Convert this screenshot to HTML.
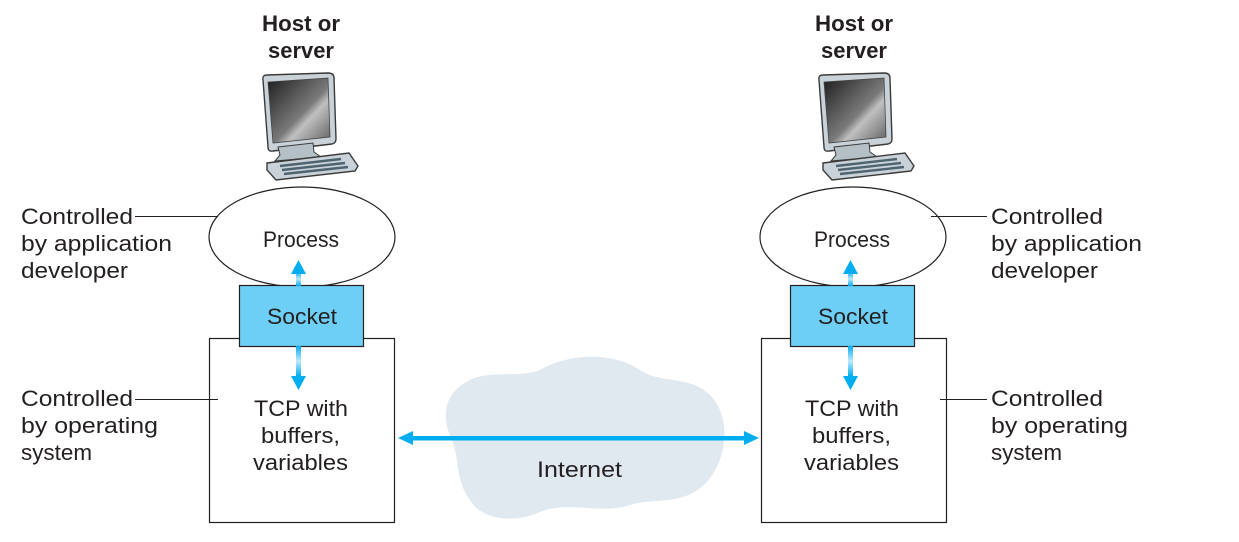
<!DOCTYPE html>
<html><head><style>
body{margin:0;background:#fff;}
svg{display:block;}
text{font-family:"Liberation Sans",sans-serif;fill:#231f20;}
</style></head><body>
<svg width="1239" height="542" viewBox="0 0 1239 542" xmlns="http://www.w3.org/2000/svg">
<defs>
<linearGradient id="scr" x1="0" y1="0" x2="1" y2="1">
<stop offset="0" stop-color="#1e1e1e"/><stop offset="0.55" stop-color="#7a7a7a"/><stop offset="0.65" stop-color="#c0c0c0"/><stop offset="1" stop-color="#606060"/>
</linearGradient>
<linearGradient id="vg" x1="0" y1="0" x2="0" y2="1">
<stop offset="0" stop-color="#00aeef"/><stop offset="0.5" stop-color="#bfe9fb"/><stop offset="1" stop-color="#00aeef"/>
</linearGradient>
<g id="pc">
<path d="M263,80 Q262,75 267,75 L328,73 Q334,73 334,78 L336,139 Q336,143 332,144 L273,151 Q268,152 268,147 Z" fill="#c9d2d8" stroke="#3a3a3a" stroke-width="1.4"/>
<path d="M268,82 L328,78 L330,137 L273,143 Z" fill="url(#scr)" stroke="#444" stroke-width="0.8"/>
<path d="M278,147 L313,143 L314,152 L321,157 L275,161 L280,155 Z" fill="#b5c0c6" stroke="#3a3a3a" stroke-width="1"/>
<path d="M267,163 L349,153 L358,166 L355,171 L276,180 L267,170 Z" fill="#c9d2d8" stroke="#3a3a3a" stroke-width="1.4"/>
<path d="M280,166 L341,159 M282,170 L345,163 M284,174 L348,167" stroke="#4f6470" stroke-width="2.4"/>
</g>
</defs>

<path d="M470,380 C490,370 520,378 540,370 C565,355 610,350 640,370 C660,384 690,375 710,395 C735,420 725,470 700,488 C680,505 650,498 630,505 C600,515 570,500 540,512 C510,525 480,518 470,500 C455,480 460,460 452,440 C440,415 445,392 470,380 Z" fill="#e0e8f0"/>

<rect x="209.5" y="338.5" width="185" height="184" fill="#fff" stroke="#231f20" stroke-width="1.2"/>
<rect x="761.5" y="338.5" width="185" height="184" fill="#fff" stroke="#231f20" stroke-width="1.2"/>

<ellipse cx="302" cy="237" rx="93" ry="50" fill="#fff" stroke="#231f20" stroke-width="1.2"/>
<ellipse cx="853" cy="237" rx="93" ry="50" fill="#fff" stroke="#231f20" stroke-width="1.2"/>

<rect x="239.5" y="285.5" width="124" height="61" fill="#6dcff6" stroke="#231f20" stroke-width="1.2"/>
<rect x="790.5" y="285.5" width="124" height="61" fill="#6dcff6" stroke="#231f20" stroke-width="1.2"/>

<g fill="#00aeef">
<rect x="296" y="272" width="5" height="14" fill="url(#vg)"/>
<polygon points="291,274 298.5,260 306,274"/>
<rect x="296" y="346" width="5" height="30" fill="url(#vg)"/>
<polygon points="291,376 298.5,390 306,376"/>
<rect x="848" y="272" width="5" height="14" fill="url(#vg)"/>
<polygon points="843,274 850.5,260 858,274"/>
<rect x="848" y="346" width="5" height="30" fill="url(#vg)"/>
<polygon points="843,376 850.5,390 858,376"/>
<rect x="410" y="436" width="336" height="4.5"/>
<polygon points="398,438 413,431 413,445"/>
<polygon points="759,438 744,431 744,445"/>
</g>

<g stroke="#231f20" stroke-width="1">
<line x1="135" y1="216.5" x2="218" y2="216.5"/>
<line x1="931" y1="216.5" x2="987" y2="216.5"/>
<line x1="135" y1="399.5" x2="218" y2="399.5"/>
<line x1="940" y1="399.5" x2="987" y2="399.5"/>
</g>

<use href="#pc"/>
<use href="#pc" transform="translate(556,0)"/>

<g font-size="22" lengthAdjust="spacingAndGlyphs">
<text x="262" y="31" font-weight="bold" textLength="78" lengthAdjust="spacingAndGlyphs">Host or</text>
<text x="268" y="58" font-weight="bold" textLength="66" lengthAdjust="spacingAndGlyphs">server</text>
<text x="815" y="31" font-weight="bold" textLength="78" lengthAdjust="spacingAndGlyphs">Host or</text>
<text x="821" y="58" font-weight="bold" textLength="66" lengthAdjust="spacingAndGlyphs">server</text>
<text x="263" y="247" textLength="76" lengthAdjust="spacingAndGlyphs">Process</text>
<text x="814" y="247" textLength="76" lengthAdjust="spacingAndGlyphs">Process</text>
<text x="267" y="324" textLength="70" lengthAdjust="spacingAndGlyphs">Socket</text>
<text x="818" y="324" textLength="70" lengthAdjust="spacingAndGlyphs">Socket</text>
<text x="254" y="416" textLength="94" lengthAdjust="spacingAndGlyphs">TCP with</text>
<text x="261" y="443" textLength="79" lengthAdjust="spacingAndGlyphs">buffers,</text>
<text x="253" y="470" textLength="95" lengthAdjust="spacingAndGlyphs">variables</text>
<text x="805" y="416" textLength="94" lengthAdjust="spacingAndGlyphs">TCP with</text>
<text x="812" y="443" textLength="79" lengthAdjust="spacingAndGlyphs">buffers,</text>
<text x="804" y="470" textLength="95" lengthAdjust="spacingAndGlyphs">variables</text>
<text x="537" y="477" textLength="85" lengthAdjust="spacingAndGlyphs">Internet</text>
<text x="21" y="224" textLength="112" lengthAdjust="spacingAndGlyphs">Controlled</text>
<text x="21" y="251" textLength="151" lengthAdjust="spacingAndGlyphs">by application</text>
<text x="21" y="278" textLength="107" lengthAdjust="spacingAndGlyphs">developer</text>
<text x="21" y="406" textLength="112" lengthAdjust="spacingAndGlyphs">Controlled</text>
<text x="21" y="433" textLength="137" lengthAdjust="spacingAndGlyphs">by operating</text>
<text x="21" y="460" textLength="71" lengthAdjust="spacingAndGlyphs">system</text>
<text x="991" y="224" textLength="112" lengthAdjust="spacingAndGlyphs">Controlled</text>
<text x="991" y="251" textLength="151" lengthAdjust="spacingAndGlyphs">by application</text>
<text x="991" y="278" textLength="107" lengthAdjust="spacingAndGlyphs">developer</text>
<text x="991" y="406" textLength="112" lengthAdjust="spacingAndGlyphs">Controlled</text>
<text x="991" y="433" textLength="137" lengthAdjust="spacingAndGlyphs">by operating</text>
<text x="991" y="460" textLength="71" lengthAdjust="spacingAndGlyphs">system</text>
</g>
</svg>
</body></html>
